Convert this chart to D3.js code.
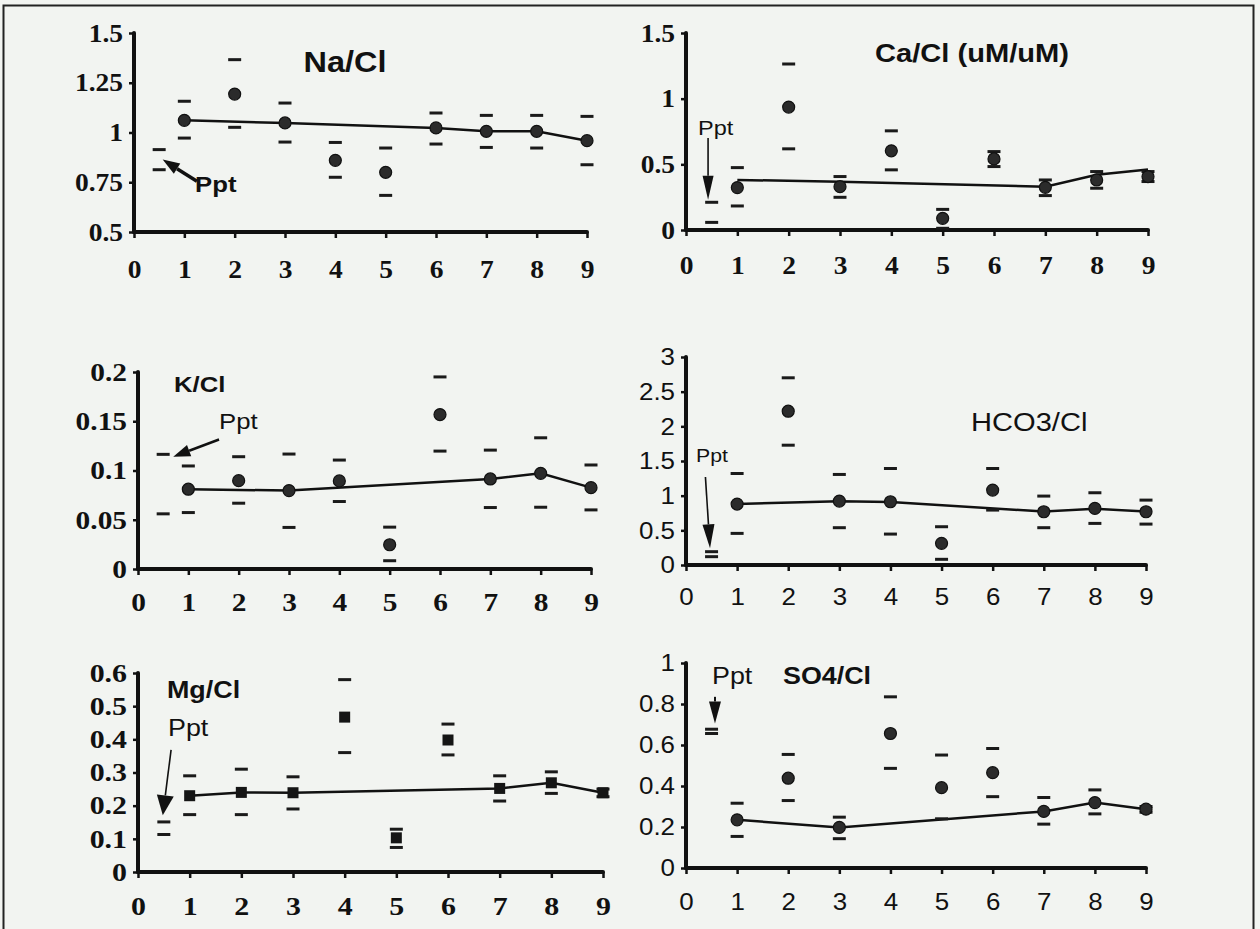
<!DOCTYPE html>
<html>
<head>
  <meta charset="utf-8">
  <script src="https://d3js.org/d3.v7.min.js"></script>
  <style>
    body { margin:0; background:#f2f4f1; }
    svg { display:block; }
  </style>
</head>
<body>
<script>

// sampling sites, plus the precipitation column drawn at x = 0.5
var sites = [1, 2, 3, 4, 5, 6, 7, 8, 9];
var pptX = 0.5;
var xTicks = [0, 1, 2, 3, 4, 5, 6, 7, 8, 9];

// Na/Cl
var naMean = [1.061, 1.193, 1.048, 0.860, 0.800, 1.023, 1.006, 1.006, 0.959];
var naHi   = [1.157, 1.366, 1.148, 0.950, 0.922, 1.098, 1.086, 1.086, 1.081];
var naLo   = [0.972, 1.026, 0.952, 0.775, 0.684, 0.942, 0.925, 0.922, 0.838];
var naPpt  = [0.914, 0.813];
var naLineX = [1, 3, 6, 7, 8, 9];
var naLineY = [1.061, 1.048, 1.023, 1.006, 1.006, 0.959];
var naTicks = [0.5, 0.75, 1, 1.25, 1.5];

// Ca/Cl
var caMean = [0.323, 0.936, 0.330, 0.603, 0.089, 0.541, 0.325, 0.381, 0.407];
var caHi   = [0.475, 1.264, 0.407, 0.755, 0.157, 0.597, 0.381, 0.445, 0.445];
var caLo   = [0.183, 0.618, 0.249, 0.458, 0.013, 0.483, 0.262, 0.318, 0.369];
var caPpt  = [0.211, 0.058];
var caLineX = [1, 3, 7, 8, 9];
var caLineY = [0.381, 0.368, 0.330, 0.420, 0.460];
var caTicks = [0, 0.5, 1, 1.5];

// K/Cl
var kMean = [0.0810, 0.0897, 0.0796, 0.0894, 0.0246, 0.1568, 0.0914, 0.0971, 0.0826];
var kHi   = [0.1046, 0.1140, 0.1167, 0.1106, 0.0425, 0.1950, 0.1207, 0.1332, 0.1056];
var kLo   = [0.0573, 0.0668, 0.0422, 0.0685, 0.0084, 0.1197, 0.0624, 0.0627, 0.0600];
var kPpt  = [0.1164, 0.0560];
var kLineX = [1, 3, 7, 8, 9];
var kLineY = [0.0810, 0.0796, 0.0914, 0.0971, 0.0826];
var kTicks = [0, 0.05, 0.1, 0.15, 0.2];

// HCO3/Cl
var hMean = [0.879, 2.218, 0.922, 0.912, 0.312, 1.080, 0.768, 0.816, 0.768];
var hHi   = [1.320, 2.700, 1.306, 1.392, 0.552, 1.392, 0.994, 1.042, 0.936];
var hLo   = [0.456, 1.728, 0.538, 0.446, 0.082, 0.792, 0.538, 0.600, 0.590];
var hPpt  = [0.192, 0.120];
var hLineX = [1, 3, 4, 7, 8, 9];
var hLineY = [0.880, 0.920, 0.910, 0.770, 0.810, 0.770];
var hTicks = [0, 0.5, 1, 1.5, 2, 2.5, 3];

// Mg/Cl
var mgMean = [0.230, 0.240, 0.239, 0.467, 0.103, 0.398, 0.252, 0.269, 0.239];
var mgHi   = [0.290, 0.310, 0.287, 0.580, 0.129, 0.446, 0.290, 0.302, 0.250];
var mgLo   = [0.173, 0.173, 0.190, 0.360, 0.074, 0.353, 0.214, 0.237, 0.227];
var mgPpt  = [0.151, 0.113];
var mgLineX = [1, 2, 3, 7, 8, 9];
var mgLineY = [0.230, 0.240, 0.239, 0.252, 0.269, 0.239];
var mgTicks = [0, 0.1, 0.2, 0.3, 0.4, 0.5, 0.6];

// SO4/Cl
var sMean = [0.235, 0.438, 0.198, 0.656, 0.392, 0.465, 0.276, 0.319, 0.287];
var sHi   = [0.316, 0.554, 0.248, 0.835, 0.551, 0.583, 0.344, 0.381, 0.300];
var sLo   = [0.154, 0.329, 0.143, 0.486, 0.240, 0.348, 0.214, 0.264, 0.272];
var sPpt  = [0.677, 0.656];
var sLineX = [1, 3, 7, 8, 9];
var sLineY = [0.235, 0.198, 0.276, 0.319, 0.287];
var sTicks = [0, 0.2, 0.4, 0.6, 0.8, 1];

var W = 1260, H = 929;
var svg = d3.select("body").append("svg").attr("width", W).attr("height", H);

// frame round the figure (bottom edge is off the page)
svg.append("path")
  .attr("d", "M3.5," + H + "V5.5H1253.5V" + H)
  .attr("fill", "none").attr("stroke", "#222").attr("stroke-width", 2);

var serif = "'Liberation Serif', 'Times New Roman', serif";
var sans = "'Liberation Sans', Arial, sans-serif";
var textStretch = 1.12;   // the scan is a little wider than tall

var panels = [
  { mean: naMean, hi: naHi, lo: naLo, ppt: naPpt, lx: naLineX, ly: naLineY, ticks: naTicks,
    dom: [0.5, 1.5], x0: 134, x9: 587, yTop: 33, yBot: 232, mark: "circle", xPad: 22,
    tickFont: serif, tickSize: 25, tickWeight: "bold", tickStretch: 1.1,
    title: { text: "Na/Cl", x: 345, y: 62, size: 29, weight: "bold", anchor: "middle" },
    pptLabel: { x: 195, y: 184, size: 23, weight: "bold" },
    arrow: { from: [1.25, 0.755], to: [0.57, 0.864], len: 17, wid: 12, sw: 3.5 } },
  { mean: caMean, hi: caHi, lo: caLo, ppt: caPpt, lx: caLineX, ly: caLineY, ticks: caTicks,
    dom: [0, 1.5], x0: 686, x9: 1148, yTop: 33, yBot: 230, mark: "circle", xPad: 20,
    tickFont: serif, tickSize: 25, tickWeight: "bold", tickStretch: 1.1,
    title: { text: "Ca/Cl (uM/uM)", x: 875, y: 53, size: 26, weight: "bold", anchor: "start" },
    pptLabel: { x: 698, y: 128, size: 21, weight: "normal" },
    arrow: { from: [0.43, 0.70], to: [0.43, 0.23], len: 24, wid: 11, sw: 1.6 } },
  { mean: kMean, hi: kHi, lo: kLo, ppt: kPpt, lx: kLineX, ly: kLineY, ticks: kTicks,
    dom: [0, 0.2], x0: 138, x9: 591, yTop: 372, yBot: 569, mark: "circle", xPad: 18,
    tickFont: serif, tickSize: 26, tickWeight: "bold", tickStretch: 1.13,
    title: { text: "K/Cl", x: 174, y: 384, size: 23, weight: "bold", anchor: "start" },
    pptLabel: { x: 219, y: 421, size: 23, weight: "normal" },
    arrow: { from: [1.61, 0.1315], to: [0.70, 0.114], len: 17, wid: 12, sw: 2.5 } },
  { mean: hMean, hi: hHi, lo: hLo, ppt: hPpt, lx: hLineX, ly: hLineY, ticks: hTicks,
    dom: [0, 3], x0: 686, x9: 1146, yTop: 357, yBot: 565, mark: "circle", xPad: 17,
    tickFont: sans, tickSize: 24, tickWeight: "normal", tickStretch: 1.08,
    title: { text: "HCO3/Cl", x: 971, y: 422, size: 26, weight: "normal", anchor: "start" },
    pptLabel: { x: 696, y: 455, size: 19, weight: "normal" },
    arrow: { from: [0.38, 1.27], to: [0.47, 0.24], len: 24, wid: 12, sw: 1.6 } },
  { mean: mgMean, hi: mgHi, lo: mgLo, ppt: mgPpt, lx: mgLineX, ly: mgLineY, ticks: mgTicks,
    dom: [0, 0.6], x0: 138, x9: 603, yTop: 673, yBot: 872, mark: "square", xPad: 19,
    tickFont: serif, tickSize: 26, tickWeight: "bold", tickStretch: 1.15,
    title: { text: "Mg/Cl", x: 167, y: 690, size: 24, weight: "bold", anchor: "start" },
    pptLabel: { x: 168, y: 728, size: 24, weight: "normal" },
    arrow: { from: [0.64, 0.368], to: [0.48, 0.171], len: 20, wid: 17, sw: 1.6 } },
  { mean: sMean, hi: sHi, lo: sLo, ppt: sPpt, lx: sLineX, ly: sLineY, ticks: sTicks,
    dom: [0, 1], x0: 686, x9: 1146, yTop: 663, yBot: 868, mark: "circle", xPad: 19,
    tickFont: sans, tickSize: 24, tickWeight: "normal", tickStretch: 1.08,
    title: { text: "SO4/Cl", x: 783, y: 676, size: 24, weight: "bold", anchor: "start" },
    pptLabel: { x: 712, y: 676, size: 24, weight: "normal" },
    arrow: { from: [0.567, 0.835], to: [0.567, 0.705], len: 22, wid: 12, sw: 2 } }
];

panels.forEach(drawPanel);

// widen a text horizontally while keeping its anchor point
function stretch(sel, k) {
  sel.each(function() {
    var t = d3.select(this);
    var x0 = +t.attr("x") || 0;
    t.attr("x", x0 / k).attr("transform", "scale(" + k + ",1)");
  });
}

function drawPanel(p) {
  var x = d3.scaleLinear().domain([0, 9]).range([p.x0, p.x9]);
  var y = d3.scaleLinear().domain(p.dom).range([p.yBot, p.yTop]);
  var g = svg.append("g");

  // y axis
  var yAxis = g.append("g").attr("transform", "translate(" + p.x0 + ",0)")
    .call(d3.axisLeft(y).tickValues(p.ticks).tickSize(5).tickPadding(6)
      .tickFormat(function(d) { return String(d); }));
  // x axis
  var xAxis = g.append("g").attr("transform", "translate(0," + p.yBot + ")")
    .call(d3.axisBottom(x).tickValues(xTicks).tickSize(6).tickPadding(p.xPad)
      .tickFormat(d3.format("d")));

  [yAxis, xAxis].forEach(function(a) {
    a.select(".domain").attr("stroke", "#111").attr("stroke-width", 4)
      .attr("stroke-linecap", "round");
    a.selectAll(".tick line").attr("stroke", "#111").attr("stroke-width", 2.5);
    a.selectAll(".tick text").attr("fill", "#111")
      .style("font-family", p.tickFont).style("font-size", p.tickSize + "px")
      .style("font-weight", p.tickWeight)
      .call(stretch, p.tickStretch);
  });
  // drop the outer tick stubs of the domain path
  yAxis.select(".domain").attr("d", "M0," + p.yBot + "V" + p.yTop);
  xAxis.select(".domain").attr("d", "M" + p.x0 + ",0H" + p.x9);

  // connecting line
  var lineData = p.lx.map(function(v, i) { return [v, p.ly[i]]; });
  g.append("path")
    .datum(lineData)
    .attr("fill", "none").attr("stroke", "#111").attr("stroke-width", 2.5)
    .attr("d", d3.line().x(function(d) { return x(d[0]); }).y(function(d) { return y(d[1]); }));

  // range dashes
  var dashes = [];
  sites.forEach(function(s, i) {
    dashes.push([s, p.hi[i]]);
    dashes.push([s, p.lo[i]]);
  });
  p.ppt.forEach(function(v) { dashes.push([pptX, v]); });
  g.selectAll("line.dash").data(dashes).enter().append("line")
    .attr("class", "dash")
    .attr("x1", function(d) { return x(d[0]) - 6.5; })
    .attr("x2", function(d) { return x(d[0]) + 6.5; })
    .attr("y1", function(d) { return y(d[1]); })
    .attr("y2", function(d) { return y(d[1]); })
    .attr("stroke", "#1a1a1a").attr("stroke-width", 3);

  // mean markers
  if (p.mark === "square") {
    g.selectAll("rect.pt").data(p.mean).enter().append("rect")
      .attr("class", "pt")
      .attr("x", function(d, i) { return x(sites[i]) - 5.5; })
      .attr("y", function(d) { return y(d) - 5.5; })
      .attr("width", 11).attr("height", 11)
      .attr("fill", "#151515");
  } else {
    g.selectAll("circle.pt").data(p.mean).enter().append("circle")
      .attr("class", "pt")
      .attr("cx", function(d, i) { return x(sites[i]); })
      .attr("cy", function(d) { return y(d); })
      .attr("r", 6)
      .attr("fill", "#2b2b2b").attr("stroke", "#111").attr("stroke-width", 1.2);
  }

  // title
  g.append("text")
    .attr("x", p.title.x).attr("y", p.title.y)
    .attr("dominant-baseline", "central")
    .attr("text-anchor", p.title.anchor)
    .style("font-family", sans).style("font-weight", p.title.weight)
    .style("font-size", p.title.size + "px").attr("fill", "#111")
    .text(p.title.text)
    .call(stretch, textStretch);

  // Ppt label and arrow
  g.append("text")
    .attr("x", p.pptLabel.x).attr("y", p.pptLabel.y)
    .attr("dominant-baseline", "central")
    .style("font-family", sans).style("font-weight", p.pptLabel.weight)
    .style("font-size", p.pptLabel.size + "px").attr("fill", "#111")
    .text("Ppt")
    .call(stretch, textStretch);

  var a = p.arrow;
  var x1 = x(a.from[0]), y1 = y(a.from[1]), x2 = x(a.to[0]), y2 = y(a.to[1]);
  var ang = Math.atan2(y2 - y1, x2 - x1);
  var bx = x2 - a.len * Math.cos(ang), by = y2 - a.len * Math.sin(ang);
  var px = -Math.sin(ang) * a.wid / 2, py = Math.cos(ang) * a.wid / 2;
  g.append("line")
    .attr("x1", x1).attr("y1", y1).attr("x2", bx).attr("y2", by)
    .attr("stroke", "#111").attr("stroke-width", a.sw);
  g.append("path")
    .attr("d", "M" + x2 + "," + y2 + "L" + (bx + px) + "," + (by + py) +
      "L" + (bx - px) + "," + (by - py) + "Z")
    .attr("fill", "#111");
}
</script>
</body>
</html>
